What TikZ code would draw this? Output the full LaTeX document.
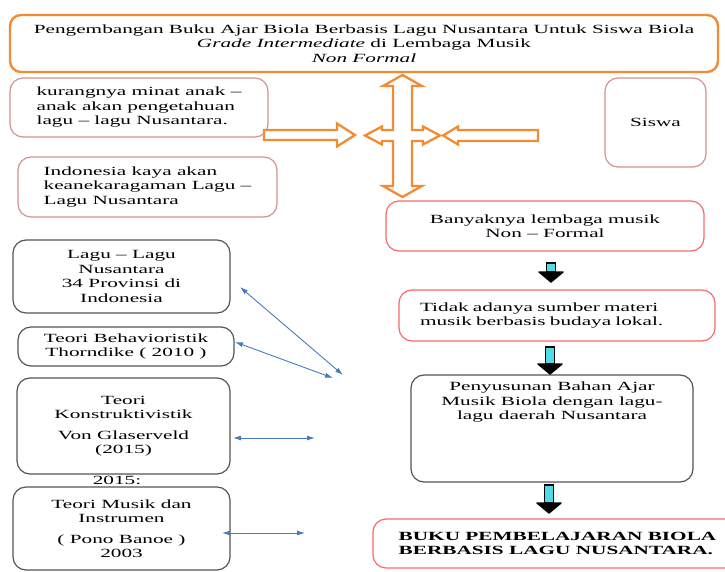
\documentclass[tikz,border=0pt]{standalone}
\usepackage{fontspec}
\setmainfont{Liberation Serif}[FakeStretch=1.7]
\usetikzlibrary{arrows.meta}

\definecolor{orangeline}{RGB}{242,140,52}
\definecolor{roseline}{RGB}{212,145,145}
\definecolor{redline}{RGB}{250,105,105}
\definecolor{greyline}{RGB}{85,85,85}
\definecolor{linkblue}{RGB}{72,122,192}
\definecolor{arrowcyan}{RGB}{80,220,230}

\begin{document}
\begin{tikzpicture}[x=1pt, y=-1pt,
    every node/.style={font=\fontsize{12.5}{14.5}\selectfont},
    box/.style={draw, rounded corners=13pt, line width=1.2pt, inner sep=0pt, align=center},
    titlebox/.style={box, draw=orangeline, line width=2.4pt, rounded corners=11pt},
    rosebox/.style={box, draw=roseline},
    redbox/.style={box, draw=redline},
    greybox/.style={box, draw=greyline},
    hollow/.style={draw=orangeline, line width=2.3pt, fill=white},
    link/.style={{Latex[length=8pt,width=5pt]}-{Latex[length=8pt,width=5pt]}, draw=linkblue, line width=0.9pt}]
    \useasboundingbox (0,0) rectangle (725,572);
    \clip (0,0) rectangle (725,572);

    % judul
    \node[titlebox, minimum width=708pt, minimum height=57pt] (judul) at (364,43.5)
        {Pengembangan Buku Ajar Biola Berbasis Lagu Nusantara Untuk Siswa Biola\\
         \textit{Grade Intermediate} di Lembaga Musik\\ \textit{Non Formal}};

    % latar belakang
    \node[rosebox, align=left, minimum width=258pt, minimum height=59pt] (kurang) at (139,107.5)
        {kurangnya minat anak --\\ anak akan pengetahuan\\ lagu -- lagu Nusantara.};
    \node[rosebox, align=left, minimum width=259pt, minimum height=60pt] (kaya) at (147.5,187)
        {Indonesia kaya akan\\ keanekaragaman Lagu --\\ Lagu Nusantara};
    \node[rosebox, minimum width=101pt, minimum height=89pt] (siswa) at (655.5,122.5) {Siswa};

    % alur kanan
    \node[redbox, minimum width=318pt, minimum height=50pt] (lembaga) at (545,226)
        {Banyaknya lembaga musik\\ Non -- Formal};
    \node[redbox, align=left, text width=274pt, minimum width=316pt, minimum height=51pt] (sumber) at (557,315.5)
        {Tidak adanya sumber materi\\ musik berbasis budaya lokal.};
    \node[greybox, minimum width=282pt, minimum height=107pt] (susun) at (552,428.5) {};
    \node[anchor=north, align=center, inner sep=0pt] (susunteks) at (552,382)
        {Penyusunan Bahan Ajar\\ Musik Biola dengan lagu-\\ lagu daerah Nusantara};
    \node[redbox, align=left, minimum width=369pt, minimum height=49pt] (buku) at (557.5,543.5)
        {\textbf{BUKU PEMBELAJARAN BIOLA}\\ \textbf{BERBASIS LAGU NUSANTARA.}};

    % teori
    \node[greybox, minimum width=217pt, minimum height=73pt] (lagu) at (121.5,276.5)
        {Lagu -- Lagu\\ Nusantara\\ 34 Provinsi di\\ Indonesia};
    \node[greybox, minimum width=216pt, minimum height=39pt] (behav) at (126,346.5)
        {Teori Behavioristik\\ Thorndike ( 2010 )};
    \node[greybox, minimum width=213pt, minimum height=96pt] (konstr) at (123.5,426)
        {Teori\\ Konstruktivistik\\[6pt] Von Glaserveld\\ (2015)};
    \node[inner sep=0pt] (tahun) at (117,480) {2015:};
    \node[greybox, minimum width=217pt, minimum height=83pt] (musik) at (121.5,528.5)
        {Teori Musik dan\\ Instrumen\\[6pt] ( Pono Banoe )\\ 2003};

    % panah oranye
    \draw[hollow] (402.5,75) -- (422,86) -- (412,86) -- (412,130) -- (423,130) -- (423,126.5)
        -- (440,135.5) -- (423,144.5) -- (423,141) -- (412,141) -- (412,186) -- (422,186)
        -- (402.5,197) -- (383,186) -- (393,186) -- (393,141) -- (382,141) -- (382,144.5)
        -- (365,135.5) -- (382,126.5) -- (382,130) -- (393,130) -- (393,86) -- (383,86) -- cycle;
    \draw[hollow] (264,130) -- (337,130) -- (337,123.5) -- (355,135) -- (337,146.5)
        -- (337,140) -- (264,140) -- cycle;
    \draw[hollow] (538,130) -- (458,130) -- (458,126.5) -- (443,135.5) -- (458,144.5)
        -- (458,141) -- (538,141) -- cycle;

    % panah bawah
    \foreach \x/\ya/\yb in {551/263/282, 550/347/374, 549/485/513} {
        \filldraw[draw=black, fill=arrowcyan, line width=1.4pt]
            (\x-4.5,\ya) rectangle (\x+4.5,\yb-10);
        \filldraw[black, line width=1.4pt, line join=round]
            (\x-12,\yb-10) -- (\x+12,\yb-10) -- (\x,\yb) -- cycle;
    }

    % panah biru
    \coordinate (laguA) at (240,287);   \coordinate (hubA) at (343,375);
    \coordinate (behavA) at (235,342);  \coordinate (hubB) at (333,378);
    \coordinate (konstrA) at (233,438); \coordinate (hubC) at (315,438);
    \coordinate (musikA) at (222,533);  \coordinate (hubD) at (305,533);
    \draw[link] (laguA) -- (hubA);
    \draw[link] (behavA) -- (hubB);
    \draw[link] (konstrA) -- (hubC);
    \draw[link] (musikA) -- (hubD);
\end{tikzpicture}
\end{document}
